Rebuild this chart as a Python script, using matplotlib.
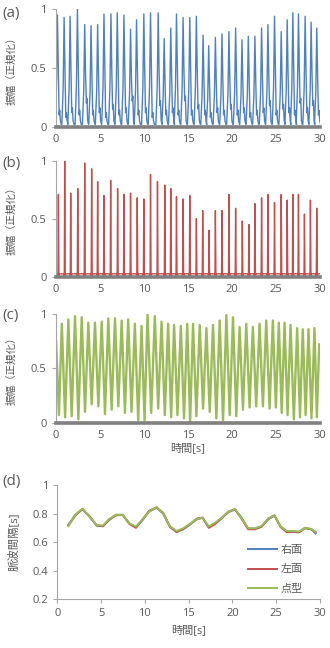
import matplotlib

matplotlib.use("Agg")

import matplotlib.pyplot as plt


plt.rcParams["font.family"] = ["Open Sans", "Noto Sans CJK JP", "DejaVu Sans"]

BLUE = "#4f81bd"
RED = "#c0504d"
GREEN = "#9bbb59"
TEXT_COLOR = "#595959"
SPINE_COLOR = "#a6a6a6"
BAR_COLOR = "#808080"

# (a) right-face pulse peaks
A_PEAK_T = [0.15, 0.91, 1.59, 2.42, 3.25, 3.97, 4.72, 5.44, 6.23, 6.95, 7.71, 8.46, 9.14, 9.97,
            10.73, 11.60, 12.28, 13.03, 13.68, 14.43, 15.19, 15.94, 16.70, 17.34, 18.10, 18.85,
            19.64, 20.40, 21.12, 21.84, 22.59, 23.35, 24.07, 24.82, 25.58, 26.26, 26.90, 27.54,
            28.30, 28.98, 29.62]
A_PEAK_H = [0.95, 0.93, 0.94, 1.00, 0.87, 0.86, 0.87, 0.96, 0.96, 0.97, 0.95, 0.83, 0.91, 0.96,
            0.97, 0.97, 0.75, 0.84, 0.96, 0.93, 0.93, 0.94, 0.78, 0.69, 0.76, 0.79, 0.81, 0.84,
            0.74, 0.77, 0.77, 0.84, 0.87, 0.94, 0.81, 0.91, 0.97, 0.96, 0.94, 0.89, 0.84]
A_NOTCH = [0.10, 0.08, 0.12, 0.10, 0.20, 0.10, 0.12, 0.08, 0.15, 0.10, 0.12, 0.22, 0.10, 0.12,
           0.08, 0.18, 0.10, 0.12, 0.10, 0.22, 0.10, 0.15, 0.10, 0.08, 0.12, 0.10, 0.15, 0.10,
           0.12, 0.08, 0.10, 0.12, 0.18, 0.10, 0.15, 0.12, 0.10, 0.20, 0.12, 0.18, 0.10]

# (b) left-face pulse peaks
B_PEAK_T = [0.26, 0.98, 1.66, 2.46, 3.25, 4.04, 4.72, 5.44, 6.20, 6.99, 7.71, 8.46, 9.22, 9.97,
            10.73, 11.52, 12.35, 13.03, 13.68, 14.43, 15.19, 15.94, 16.66, 17.38, 18.10, 18.85,
            19.64, 20.40, 21.16, 21.91, 22.59, 23.35, 24.07, 24.82, 25.58, 26.26, 26.90, 27.54,
            28.22, 28.90, 29.62]
B_PEAK_H = [0.71, 1.00, 0.72, 0.76, 0.98, 0.93, 0.82, 0.70, 0.83, 0.76, 0.71, 0.72, 0.68, 0.67,
            0.88, 0.82, 0.79, 0.76, 0.69, 0.67, 0.70, 0.50, 0.57, 0.40, 0.57, 0.57, 0.71, 0.59,
            0.48, 0.45, 0.63, 0.68, 0.71, 0.64, 0.71, 0.66, 0.71, 0.71, 0.54, 0.66, 0.59]

# (c) dot-type signal: peak times/heights and troughs in between
C_PEAK_T = [0.00, 0.65, 1.39, 2.15, 2.91, 3.66, 4.42, 5.18, 5.93, 6.69, 7.45, 8.19, 8.95, 9.71,
            10.39, 11.22, 11.98, 12.73, 13.41, 14.17, 14.90, 15.56, 16.32, 17.08, 17.83, 18.59,
            19.35, 20.10, 20.85, 21.61, 22.36, 23.12, 23.88, 24.63, 25.31, 25.96, 26.64, 27.39,
            28.03, 28.68, 29.36, 29.90]
C_PEAK_H = [0.75, 0.91, 0.95, 0.98, 0.97, 0.92, 0.92, 0.93, 0.96, 0.96, 0.94, 0.95, 0.91, 0.89,
            1.00, 0.98, 0.93, 0.91, 0.90, 0.89, 0.91, 0.91, 0.90, 0.87, 0.90, 0.94, 0.99, 0.97,
            0.88, 0.91, 0.88, 0.91, 0.94, 0.94, 0.92, 0.92, 0.90, 0.87, 0.86, 0.86, 0.87, 0.72]
C_TROUGH = [0.07, 0.05, 0.06, 0.03, 0.10, 0.17, 0.15, 0.08, 0.12, 0.15, 0.09, 0.10, 0.02, 0.02,
            0.09, 0.13, 0.07, 0.05, 0.07, 0.04, 0.01, 0.06, 0.13, 0.10, 0.04, 0.02, 0.07, 0.06,
            0.12, 0.14, 0.15, 0.15, 0.13, 0.14, 0.09, 0.07, 0.03, 0.05, 0.07, 0.04, 0.05]

# (d) pulse intervals
D_TIME = [1.26, 2.05, 2.86, 3.66, 4.50, 5.20, 5.94, 6.70, 7.47, 8.23, 8.99, 9.75, 10.50, 11.35,
          12.10, 12.87, 13.63, 14.39, 15.20, 15.95, 16.60, 17.30, 18.00, 18.77, 19.53, 20.30,
          21.06, 21.80, 22.58, 23.34, 24.10, 24.80, 25.50, 26.20, 26.95, 27.60, 28.30, 29.05, 29.50]
D_RIGHT = [0.720, 0.790, 0.830, 0.780, 0.715, 0.712, 0.755, 0.790, 0.792, 0.730, 0.705, 0.755,
           0.815, 0.840, 0.805, 0.710, 0.675, 0.690, 0.725, 0.760, 0.770, 0.705, 0.730, 0.765,
           0.810, 0.828, 0.770, 0.695, 0.695, 0.710, 0.760, 0.785, 0.710, 0.675, 0.675, 0.670,
           0.700, 0.690, 0.660]
D_LEFT = [0.715, 0.785, 0.832, 0.782, 0.718, 0.710, 0.760, 0.788, 0.790, 0.728, 0.700, 0.760,
          0.820, 0.842, 0.798, 0.705, 0.670, 0.692, 0.728, 0.765, 0.772, 0.700, 0.725, 0.770,
          0.812, 0.830, 0.762, 0.690, 0.690, 0.708, 0.765, 0.788, 0.705, 0.670, 0.672, 0.668,
          0.698, 0.688, 0.668]
D_DOT = [0.712, 0.792, 0.834, 0.778, 0.720, 0.716, 0.762, 0.792, 0.790, 0.732, 0.709, 0.760,
         0.815, 0.845, 0.800, 0.709, 0.678, 0.697, 0.730, 0.762, 0.770, 0.709, 0.735, 0.770,
         0.814, 0.830, 0.765, 0.697, 0.697, 0.713, 0.765, 0.786, 0.709, 0.678, 0.678, 0.674,
         0.700, 0.690, 0.672]

AMP_TICKS = [0, 0.5, 1]
AMP_TICK_LABELS = ["0", "0.5", "1"]
TIME_TICKS = [0, 5, 10, 15, 20, 25, 30]
INTERVAL_TICKS = [0.2, 0.4, 0.6, 0.8, 1.0]
INTERVAL_TICK_LABELS = ["0.2", "0.4", "0.6", "0.8", "1"]


def pulse_wave(peak_t, peak_h, notch_h):
    # plethysmogram-like pulse: steep rise, fall with small dicrotic bump
    xs, ys = [], []
    for t, h, n in zip(peak_t, peak_h, notch_h):
        xs += [t - 0.26, t - 0.11, t, t + 0.10, t + 0.19, t + 0.26, t + 0.34, t + 0.44]
        ys += [0.02, 0.35 * h, h, 0.50 * h, n, n + 0.04, 0.05, 0.02]
    return xs, ys


def spike_wave(peak_t, peak_h):
    xs, ys = [0.0], [0.025]
    for t, h in zip(peak_t, peak_h):
        xs += [t - 0.10, t - 0.05, t, t + 0.06, t + 0.12]
        ys += [0.025, 0.0, h, 0.0, 0.025]
    xs.append(30.0)
    ys.append(0.025)
    return xs, ys


def zigzag_wave(peak_t, peak_h, trough_h):
    xs, ys = [], []
    for i, (t, h) in enumerate(zip(peak_t, peak_h)):
        xs.append(t)
        ys.append(h)
        if i < len(trough_h):
            xs.append((t + peak_t[i + 1]) / 2)
            ys.append(trough_h[i])
    return xs, ys


def style_amplitude_axis(ax):
    ax.set_xlim(0, 30)
    ax.set_ylim(0, 1)
    ax.set_yticks(AMP_TICKS)
    ax.set_yticklabels(AMP_TICK_LABELS)
    ax.set_xticks(TIME_TICKS)
    for side in ("top", "right"):
        ax.spines[side].set_visible(False)
    ax.spines["left"].set_color(SPINE_COLOR)
    ax.spines["left"].set_linewidth(0.8)
    ax.spines["bottom"].set_color(BAR_COLOR)
    ax.spines["bottom"].set_linewidth(2.6)
    ax.tick_params(axis="y", colors=SPINE_COLOR, labelcolor=TEXT_COLOR, labelsize=8,
                   length=3, width=0.8, pad=4)
    ax.tick_params(axis="x", colors=SPINE_COLOR, labelcolor=TEXT_COLOR, labelsize=8,
                   length=0, pad=5)
    ax.set_ylabel("振幅（正規化）", fontsize=7.6, color=TEXT_COLOR)
    ax.yaxis.set_label_coords(-0.145, 0.5)


fig = plt.figure(figsize=(3.3, 6.48), dpi=100)

ax_a = fig.add_axes([0.170, 0.8045, 0.800, 0.1812])
xs, ys = pulse_wave(A_PEAK_T, A_PEAK_H, A_NOTCH)
ax_a.plot(xs, ys, color=BLUE, linewidth=1.0)
style_amplitude_axis(ax_a)

ax_b = fig.add_axes([0.170, 0.573, 0.800, 0.179])
xs, ys = spike_wave(B_PEAK_T, B_PEAK_H)
ax_b.plot(xs, ys, color=RED, linewidth=1.0)
style_amplitude_axis(ax_b)

ax_c = fig.add_axes([0.170, 0.3477, 0.800, 0.1677])
xs, ys = zigzag_wave(C_PEAK_T, C_PEAK_H, C_TROUGH)
ax_c.plot(xs, ys, color=GREEN, linewidth=1.7)
style_amplitude_axis(ax_c)
ax_c.set_xlabel("時間[s]", fontsize=8, color=TEXT_COLOR, labelpad=2)

ax_d = fig.add_axes([0.1736, 0.0752, 0.796, 0.1764])
ax_d.plot(D_TIME, D_RIGHT, color=BLUE, linewidth=1.4, label="右面")
ax_d.plot(D_TIME, D_LEFT, color=RED, linewidth=1.4, label="左面")
ax_d.plot(D_TIME, D_DOT, color=GREEN, linewidth=1.4, label="点型")
ax_d.set_xlim(0, 30)
ax_d.set_ylim(0.2, 1.0)
ax_d.set_xticks(TIME_TICKS)
ax_d.set_yticks(INTERVAL_TICKS)
ax_d.set_yticklabels(INTERVAL_TICK_LABELS)
for side in ("top", "right"):
    ax_d.spines[side].set_visible(False)
for side in ("left", "bottom"):
    ax_d.spines[side].set_color(SPINE_COLOR)
    ax_d.spines[side].set_linewidth(0.8)
ax_d.tick_params(colors=SPINE_COLOR, labelcolor=TEXT_COLOR, labelsize=8, length=3, width=0.8)
ax_d.set_ylabel("脈波間隔[s]", fontsize=8.2, color=TEXT_COLOR)
ax_d.yaxis.set_label_coords(-0.142, 0.5)
ax_d.set_xlabel("時間[s]", fontsize=8, color=TEXT_COLOR, labelpad=4)
legend = ax_d.legend(loc="lower left", bbox_to_anchor=(0.71, 0.0), frameon=False,
                     fontsize=8, handlelength=2.6, labelspacing=0.75, handletextpad=0.3,
                     borderaxespad=0.0)
for text in legend.get_texts():
    text.set_color(TEXT_COLOR)

for label, y in (("(a)", 13), ("(b)", 163), ("(c)", 315), ("(d)", 482)):
    fig.text(2 / 330, 1 - y / 648, label, fontsize=11, color=TEXT_COLOR, ha="left", va="center")

fig.savefig("out.png", dpi=100)
plt.close(fig)
